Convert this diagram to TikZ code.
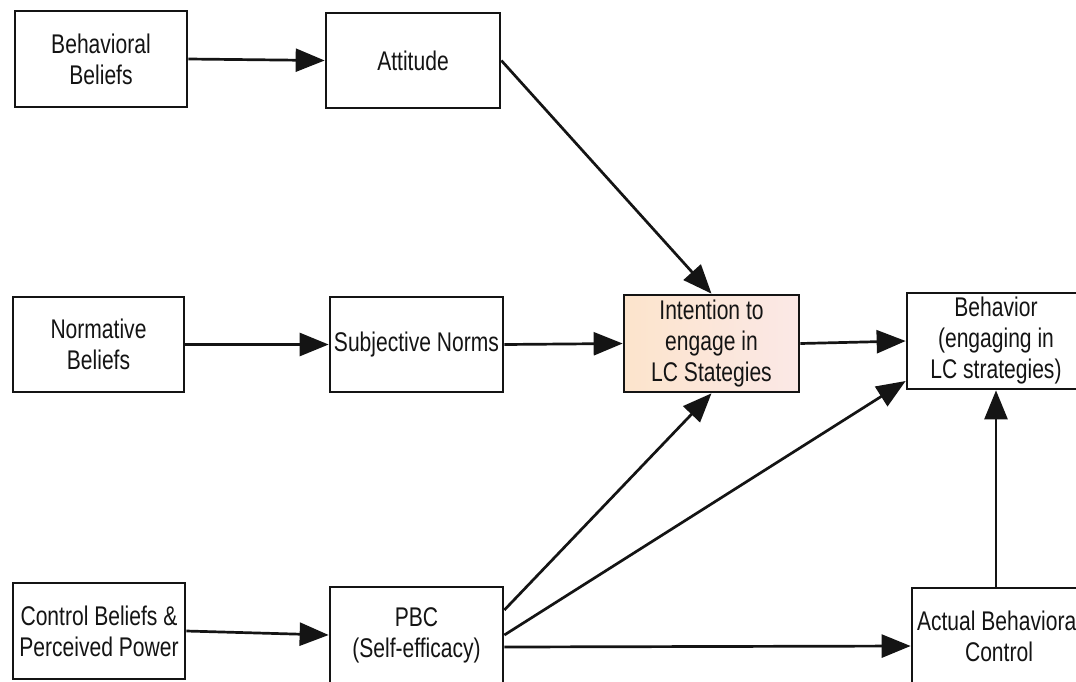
\documentclass[tikz,border=0pt]{standalone}
\usepackage{fontspec}
\setmainfont{Liberation Sans}[FakeStretch=0.78]
\usetikzlibrary{arrows.meta}
\definecolor{inkc}{RGB}{20,20,20}
\definecolor{peachL}{RGB}{252,228,204}
\definecolor{peachR}{RGB}{251,232,230}
\tikzset{
  boxnode/.style={draw=inkc, line width=2.7pt, rectangle, align=center, inner sep=1pt,
    minimum width=#1, minimum height=96pt, text=inkc,
    font=\fontsize{27}{31}\selectfont},
  boxnode/.default=172pt,
  conn/.style={draw=inkc, line width=2.7pt, -{Triangle[length=29pt,width=23pt]}}
}
\begin{document}
\begin{tikzpicture}[x=1pt,y=-1pt]
\useasboundingbox (0,0) rectangle (1076,681);
\clip (0,0) rectangle (1076,681);
\fill[white] (0,0) rectangle (1076,681);
% nodes
\node[boxnode=172pt] (BB) at (101,59) {Behavioral\\Beliefs};
\node[boxnode=174pt, minimum height=95pt] (Att) at (413,60.5) {Attitude};
\node[boxnode=171pt, minimum height=95pt] (NB) at (98.5,344.5) {Normative\\Beliefs};
\node[boxnode=173pt, minimum height=95pt] (SN) at (416.5,344.5) {Subjective Norms};
\node[boxnode=175pt, minimum height=97pt, left color=peachL, right color=peachR] (Int) at (711.5,343.5) {Intention to\\engage in\\LC Stategies};
\node[boxnode=178pt] (Beh) at (996,341) {Behavior\\(engaging in\\LC strategies)};
\node[boxnode=172pt] (CB) at (99,631) {Control Beliefs \&\\Perceived Power};
\node[boxnode=173pt] (PBC) at (416.5,635) {PBC\\(Self-efficacy)};
\node[boxnode=174pt] (ABC) at (999,636) {Actual Behavioral\\Control};
% connectors
\draw[conn] (BB.east) -- (Att.west);
\draw[conn] (Att.east) -- (Int.north);
\draw[conn] (NB.east) -- (SN.west);
\draw[conn] (SN.east) -- (Int.west);
\draw[conn] (Int.east) -- (Beh.west);
\draw[conn] (CB.east) -- (PBC.west);
\draw[conn] ([yshift=25pt]PBC.east) -- (Int.south);
\draw[conn] (PBC.east) -- ([yshift=-40pt]Beh.west);
\draw[conn] ([yshift=-12pt]PBC.east) -- ([yshift=-10pt]ABC.west);
\draw[conn] ([xshift=-3pt]ABC.north) -- (Beh.south);
\end{tikzpicture}
\end{document}
